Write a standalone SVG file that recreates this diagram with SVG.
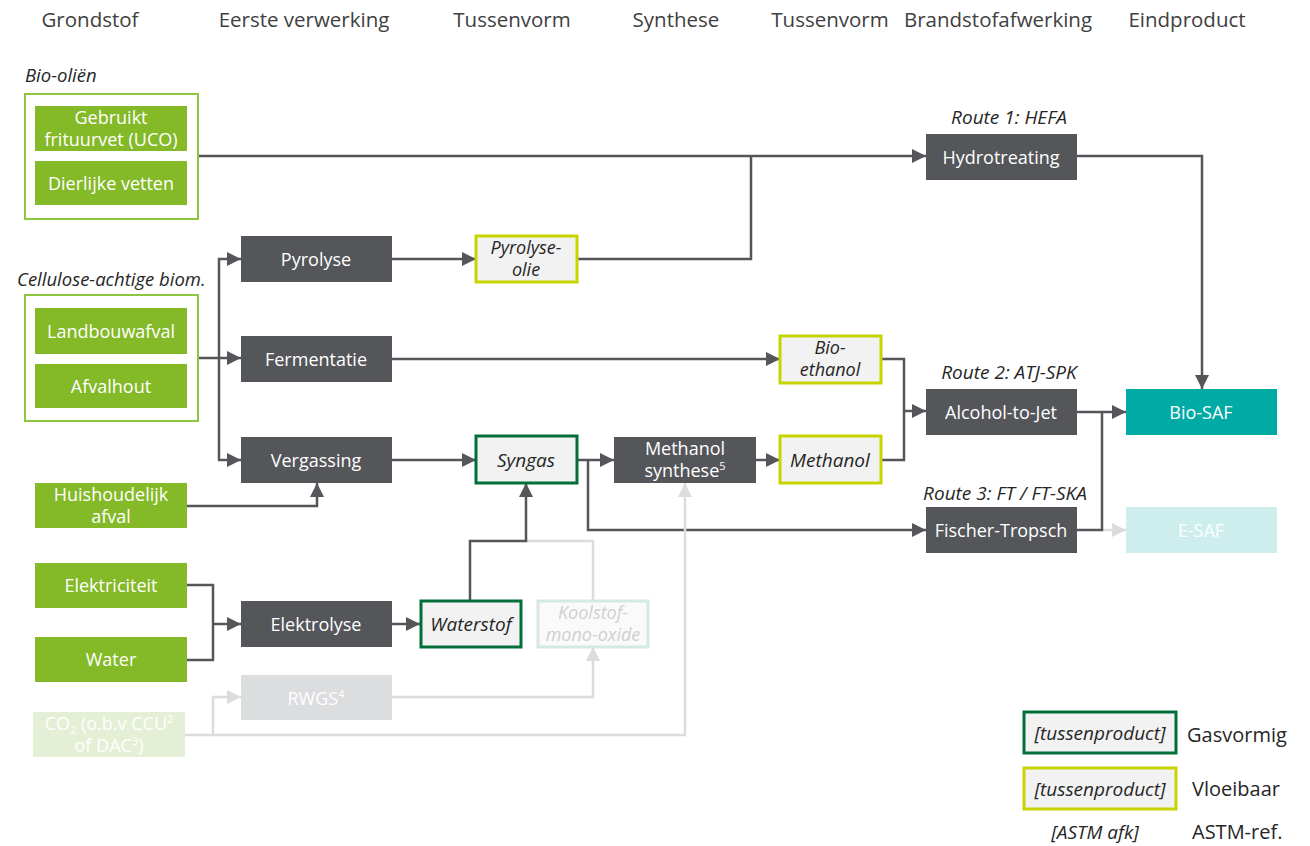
<svg xmlns="http://www.w3.org/2000/svg" width="1310" height="846" viewBox="0 0 1310 846">
<defs>
<style>
text{font-family:"Open Sans","Noto Sans","Liberation Sans",sans-serif}
.hdr{font-size:20.5px;fill:#404040;text-anchor:middle}
.cat{font-size:18.5px;font-style:italic;fill:#262626}
.grp{fill:none;stroke:#8dc63f;stroke-width:2}
.feed{fill:#84b927}
.proc{fill:#54565a}
.wt{font-size:18px;fill:#fff;text-anchor:middle}
.it{font-size:19px;font-style:italic;fill:#262626;text-anchor:middle}
.it2{font-size:18px;font-style:italic;fill:#262626;text-anchor:middle}
.gas{fill:#f2f2f2;stroke:#006f3a;stroke-width:3}
.liq{fill:#f2f2f2;stroke:#c8d400;stroke-width:3}
.c{fill:none;stroke:#54565a;stroke-width:2.5}
.cl{fill:none;stroke:#dcdcdc;stroke-width:2.5}
.lg{font-size:20px;fill:#262626}
.sup{font-size:11px}
</style>
<marker id="a" markerUnits="userSpaceOnUse" markerWidth="14" markerHeight="14" viewBox="0 0 14 14" refX="14" refY="7" orient="auto"><path d="M0,0 L14,7 L0,14 Z" fill="#54565a"/></marker>
<marker id="al" markerUnits="userSpaceOnUse" markerWidth="14" markerHeight="14" viewBox="0 0 14 14" refX="14" refY="7" orient="auto"><path d="M0,0 L14,7 L0,14 Z" fill="#dcdcdc"/></marker>
</defs>
<rect width="1310" height="846" fill="#fff"/>
<g id="headers">
<text class="hdr" x="90" y="27">Grondstof</text>
<text class="hdr" x="304" y="27">Eerste verwerking</text>
<text class="hdr" x="512" y="27">Tussenvorm</text>
<text class="hdr" x="676" y="27">Synthese</text>
<text class="hdr" x="830" y="27">Tussenvorm</text>
<text class="hdr" x="998" y="27">Brandstofafwerking</text>
<text class="hdr" x="1187" y="27">Eindproduct</text>
</g>
<g id="connectors">
<path class="c" d="M198,156 H926" marker-end="url(#a)"/>
<path class="c" d="M577,259 H751 V156"/>
<path class="c" d="M1077,156 H1202 V389" marker-end="url(#a)"/>
<path class="c" d="M198,358 H241" marker-end="url(#a)"/>
<path class="c" d="M219,358 V259 H241" marker-end="url(#a)"/>
<path class="c" d="M219,358 V460 H241" marker-end="url(#a)"/>
<path class="c" d="M187,506 H317 V483" marker-end="url(#a)"/>
<path class="c" d="M392,259 H476" marker-end="url(#a)"/>
<path class="c" d="M392,359 H780" marker-end="url(#a)"/>
<path class="c" d="M392,460 H476" marker-end="url(#a)"/>
<path class="c" d="M577,460 H614" marker-end="url(#a)"/>
<path class="c" d="M588,460 V530 H926" marker-end="url(#a)"/>
<path class="c" d="M756,460 H780" marker-end="url(#a)"/>
<path class="c" d="M881,359 H904 V460 H881"/>
<path class="c" d="M904,411 H926" marker-end="url(#a)"/>
<path class="c" d="M1077,412 H1126" marker-end="url(#a)"/>
<path class="cl" d="M1102,530 H1126" marker-end="url(#al)"/>
<path class="c" d="M1077,530 H1102 V412"/>
<path class="c" d="M187,585 H213 V660 H187"/>
<path class="c" d="M213,624 H241" marker-end="url(#a)"/>
<path class="c" d="M392,624 H420" marker-end="url(#a)"/>
<path class="cl" d="M526,541 H593 V600"/>
<path class="c" d="M470,600 V541 H526 V483" marker-end="url(#a)"/>
<path class="cl" d="M185,735 H213 V697 H241" marker-end="url(#al)"/>
<path class="cl" d="M213,735 H685 V483" marker-end="url(#al)"/>
<path class="cl" d="M392,697 H593 V647" marker-end="url(#al)"/>
</g>
<g id="bio-olien">
<text class="cat" x="25" y="82">Bio-oliën</text>
<rect class="grp" x="25" y="94" width="173" height="125"/>
</g>
<g id="uco">
<rect class="feed" x="35" y="106" width="152" height="45"/>
<text class="wt" x="111" y="124">Gebruikt</text>
<text class="wt" x="111" y="146">frituurvet (UCO)</text>
</g>
<g id="dierlijke-vetten">
<rect class="feed" x="35" y="161" width="152" height="44"/>
<text class="wt" x="111" y="190">Dierlijke vetten</text>
</g>
<g id="cellulose">
<text class="cat" x="17" y="286">Cellulose-achtige biom.</text>
<rect class="grp" x="25" y="295" width="173" height="126"/>
</g>
<g id="landbouwafval">
<rect class="feed" x="35" y="308" width="152" height="46"/>
<text class="wt" x="111" y="338">Landbouwafval</text>
</g>
<g id="afvalhout">
<rect class="feed" x="35" y="364" width="152" height="44"/>
<text class="wt" x="111" y="393">Afvalhout</text>
</g>
<g id="huishoudelijk-afval">
<rect class="feed" x="35" y="483" width="152" height="45"/>
<text class="wt" x="111" y="501">Huishoudelijk</text>
<text class="wt" x="111" y="523">afval</text>
</g>
<g id="elektriciteit">
<rect class="feed" x="35" y="563" width="152" height="45"/>
<text class="wt" x="111" y="592">Elektriciteit</text>
</g>
<g id="water">
<rect class="feed" x="35" y="637" width="152" height="45"/>
<text class="wt" x="111" y="666">Water</text>
</g>
<g id="co2">
<rect x="33" y="712" width="152" height="45" fill="#e5efd6"/>
<text class="wt" x="109" y="730">CO<tspan class="sup" dy="4">2</tspan><tspan dy="-4"> (o.b.v CCU</tspan><tspan class="sup" dy="-7">2</tspan></text>
<text class="wt" x="109" y="752">of DAC<tspan class="sup" dy="-7">3</tspan><tspan dy="7">)</tspan></text>
</g>
<g id="pyrolyse">
<rect class="proc" x="241" y="236" width="151" height="46"/>
<text class="wt" x="316" y="266">Pyrolyse</text>
</g>
<g id="fermentatie">
<rect class="proc" x="241" y="336" width="151" height="46"/>
<text class="wt" x="316" y="366">Fermentatie</text>
</g>
<g id="vergassing">
<rect class="proc" x="241" y="437" width="151" height="46"/>
<text class="wt" x="316" y="467">Vergassing</text>
</g>
<g id="elektrolyse">
<rect class="proc" x="241" y="601" width="151" height="46"/>
<text class="wt" x="316" y="631">Elektrolyse</text>
</g>
<g id="rwgs">
<rect x="241" y="675" width="151" height="45" fill="#dcdddf"/>
<text class="wt" x="316" y="705">RWGS<tspan class="sup" dy="-7">4</tspan></text>
</g>
<g id="pyrolyse-olie">
<rect class="liq" x="476" y="236" width="101" height="46"/>
<text class="it2" x="526" y="254">Pyrolyse-</text>
<text class="it2" x="526" y="276">olie</text>
</g>
<g id="syngas">
<rect class="gas" x="476" y="436" width="101" height="47"/>
<text class="it" x="526" y="467">Syngas</text>
</g>
<g id="waterstof">
<rect class="gas" x="421" y="601" width="100" height="46"/>
<text class="it" x="471" y="631">Waterstof</text>
</g>
<g id="koolstofmonoxide">
<rect x="538" y="601" width="110" height="46" fill="#fafafa" stroke="#d4eadf" stroke-width="3"/>
<text class="it2" x="593" y="619" style="fill:#d0d0d0">Koolstof-</text>
<text class="it2" x="593" y="641" style="fill:#d0d0d0">mono-oxide</text>
</g>
<g id="methanol-synthese">
<rect class="proc" x="614" y="437" width="142" height="46"/>
<text class="wt" x="685" y="455">Methanol</text>
<text class="wt" x="685" y="477">synthese<tspan class="sup" dy="-7">5</tspan></text>
</g>
<g id="bio-ethanol">
<rect class="liq" x="780" y="336" width="101" height="47"/>
<text class="it2" x="830" y="354">Bio-</text>
<text class="it2" x="830" y="376">ethanol</text>
</g>
<g id="methanol">
<rect class="liq" x="780" y="436" width="101" height="47"/>
<text class="it" x="830" y="467">Methanol</text>
</g>
<g id="hydrotreating">
<text class="it" x="1009" y="124">Route 1: HEFA</text>
<rect class="proc" x="926" y="134" width="151" height="46"/>
<text class="wt" x="1001" y="164">Hydrotreating</text>
</g>
<g id="alcohol-to-jet">
<text class="it" x="1009" y="379">Route 2: ATJ-SPK</text>
<rect class="proc" x="926" y="389" width="151" height="46"/>
<text class="wt" x="1001" y="419">Alcohol-to-Jet</text>
</g>
<g id="fischer-tropsch">
<text class="it" x="1005" y="500">Route 3: FT / FT-SKA</text>
<rect class="proc" x="926" y="507" width="151" height="46"/>
<text class="wt" x="1001" y="537">Fischer-Tropsch</text>
</g>
<g id="bio-saf">
<rect x="1126" y="389" width="151" height="46" fill="#00aaa5"/>
<text class="wt" x="1201" y="419">Bio-SAF</text>
</g>
<g id="e-saf">
<rect x="1126" y="507" width="151" height="46" fill="#cdeeed"/>
<text class="wt" x="1201" y="537">E-SAF</text>
</g>
<g id="legend">
<rect class="gas" x="1024" y="712" width="152" height="41"/>
<text class="it" x="1100" y="740">[tussenproduct]</text>
<text class="lg" x="1187" y="742">Gasvormig</text>
<rect class="liq" x="1024" y="768" width="152" height="41"/>
<text class="it" x="1100" y="796">[tussenproduct]</text>
<text class="lg" x="1192" y="796">Vloeibaar</text>
<text class="it" x="1095" y="839">[ASTM afk]</text>
<text class="lg" x="1192" y="839">ASTM-ref.</text>
</g>
</svg>
